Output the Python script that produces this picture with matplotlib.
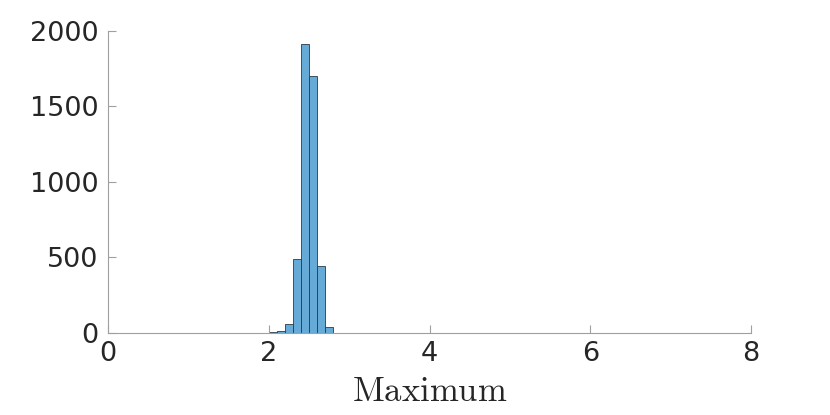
import numpy as np
import matplotlib
matplotlib.use("Agg")
import matplotlib.pyplot as plt

# histogram of maxima, bin width 0.1
bin_edges = [2.0, 2.1, 2.2, 2.3, 2.4, 2.5, 2.6, 2.7, 2.8, 2.9]
counts = [5, 13, 60, 488, 1912, 1700, 442, 40, 2]

x_ticks = [0, 2, 4, 6, 8]
y_ticks = [0, 500, 1000, 1500, 2000]

plt.rcParams["mathtext.fontset"] = "cm"

fig = plt.figure(figsize=(8.3, 4.15), dpi=100)
ax = fig.add_axes([0.130, 0.1976, 0.775, 0.7277])

ax.hist(bin_edges[:-1], bins=bin_edges, weights=counts,
        color="#66aad7", edgecolor="#2b3a45", linewidth=0.6)

ax.set_xlim(0, 8)
ax.set_ylim(0, 2000)
ax.set_xticks(x_ticks)
ax.set_yticks(y_ticks)

for side in ["top", "right"]:
    ax.spines[side].set_visible(False)
for side in ["bottom", "left"]:
    ax.spines[side].set_color("#a0a0a0")
    ax.spines[side].set_linewidth(0.8)

ax.tick_params(direction="in", length=6, width=0.8, color="#a0a0a0",
               labelsize=19.5, labelcolor="#262626", pad=6)
ax.tick_params(axis="y", pad=7)

ax.set_xlabel(r"$\mathrm{Maximum}$", fontsize=25, color="#262626", labelpad=5)

fig.savefig("out.png", dpi=100)
